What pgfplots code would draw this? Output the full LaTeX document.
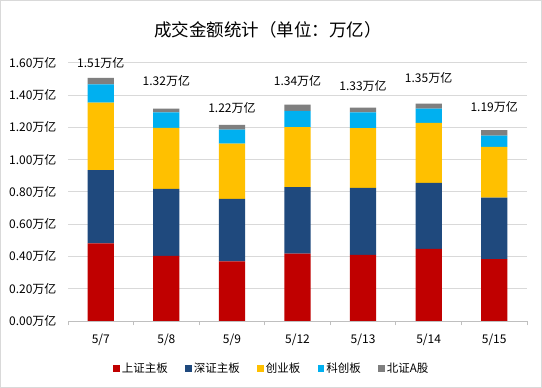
\documentclass[border=0pt]{standalone}
\usepackage{pgfplots}
\pgfplotsset{compat=1.18}
\usepackage{pgfplotstable}
\usepackage{fontspec}
\setmainfont{Noto Sans CJK SC}
\definecolor{cRed}{RGB}{192,0,0}
\definecolor{cBlue}{RGB}{31,73,125}
\definecolor{cYel}{RGB}{255,192,0}
\definecolor{cCyan}{RGB}{0,176,240}
\definecolor{cGray}{RGB}{127,127,127}
\definecolor{gridc}{RGB}{217,217,217}
\definecolor{axc}{RGB}{191,191,191}

\pgfplotstableread{
x sh sz cy kc bz
0 0.481 0.454 0.417 0.114 0.040
1 0.403 0.415 0.379 0.095 0.023
2 0.370 0.386 0.342 0.087 0.030
3 0.417 0.413 0.371 0.100 0.039
4 0.409 0.415 0.371 0.097 0.030
5 0.446 0.409 0.373 0.087 0.031
6 0.384 0.380 0.314 0.070 0.035
}\data

\pgfplotstableread{
x y lab
0 1.600 1.51万亿
1 1.487 1.32万亿
2 1.322 1.22万亿
3 1.489 1.34万亿
4 1.458 1.33万亿
5 1.507 1.35万亿
6 1.328 1.19万亿
}\labs

\begin{document}
\begin{tikzpicture}
\fill[white] (0bp,0bp) rectangle (542bp,388bp);
\draw[gridc, line width=1bp] (0.5bp,0.5bp) rectangle (541.5bp,387.5bp);
\node[font=\fontsize{17.5bp}{20bp}\selectfont] at (268bp,358.5bp) {成交金额统计（单位：万亿）};
\begin{axis}[
  at={(68bp,67bp)}, anchor=south west, scale only axis,
  width=459bp, height=258.3bp,
  ybar stacked, bar width=0.4,
  xmin=-0.5, xmax=6.5, ymin=0, ymax=1.6,
  xtick={0,...,6}, xticklabels={5/7,5/8,5/9,5/12,5/13,5/14,5/15},
  minor xtick={-0.5,0.5,1.5,2.5,3.5,4.5,5.5,6.5},
  ytick={0,0.2,0.4,0.6,0.8,1.0,1.2,1.4,1.6},
  yticklabels={0.00万亿,0.20万亿,0.40万亿,0.60万亿,0.80万亿,1.00万亿,1.20万亿,1.40万亿,1.60万亿},
  ymajorgrids, grid style={gridc, line width=0.75bp},
  axis x line=bottom, axis y line=left,
  x axis line style={axc, line width=0.75bp, -},
  y axis line style={draw=none},
  major tick length=0pt, minor tick length=4bp, tick align=outside,
  minor tick style={axc, line width=0.75bp},
  ticklabel style={font=\fontsize{12bp}{14bp}\selectfont, text=black},
  xticklabel style={yshift=-9bp},
  yticklabel style={xshift=-8bp},
  legend columns=5,
  legend style={draw=none, at={(0.444,-0.184)}, anchor=center,
    font=\fontsize{11.5bp}{13bp}\selectfont,
    /tikz/every even column/.append style={column sep=15.5bp}},
  legend image code/.code={\fill[#1] (0bp,-3bp) rectangle (6.5bp,3.5bp);},
]
\addplot[fill=cRed, draw=none] table[x=x, y=sh] {\data};
\addlegendentry{上证主板}
\addplot[fill=cBlue, draw=none] table[x=x, y=sz] {\data};
\addlegendentry{深证主板}
\addplot[fill=cYel, draw=none] table[x=x, y=cy] {\data};
\addlegendentry{创业板}
\addplot[fill=cCyan, draw=none] table[x=x, y=kc] {\data};
\addlegendentry{科创板}
\addplot[fill=cGray, draw=none] table[x=x, y=bz] {\data};
\addlegendentry{北证A股}
\end{axis}
\begin{axis}[
  at={(68bp,67bp)}, anchor=south west, scale only axis,
  width=459bp, height=258.3bp,
  xmin=-0.5, xmax=6.5, ymin=0, ymax=1.6, hide axis,
]
\addplot[draw=none, mark=none, nodes near coords, point meta=explicit symbolic,
  every node near coord/.append style={anchor=center, yshift=0pt, font=\fontsize{12bp}{14bp}\selectfont, text=black}]
  table[x=x, y=y, meta=lab] {\labs};
\end{axis}
\end{tikzpicture}
\end{document}
